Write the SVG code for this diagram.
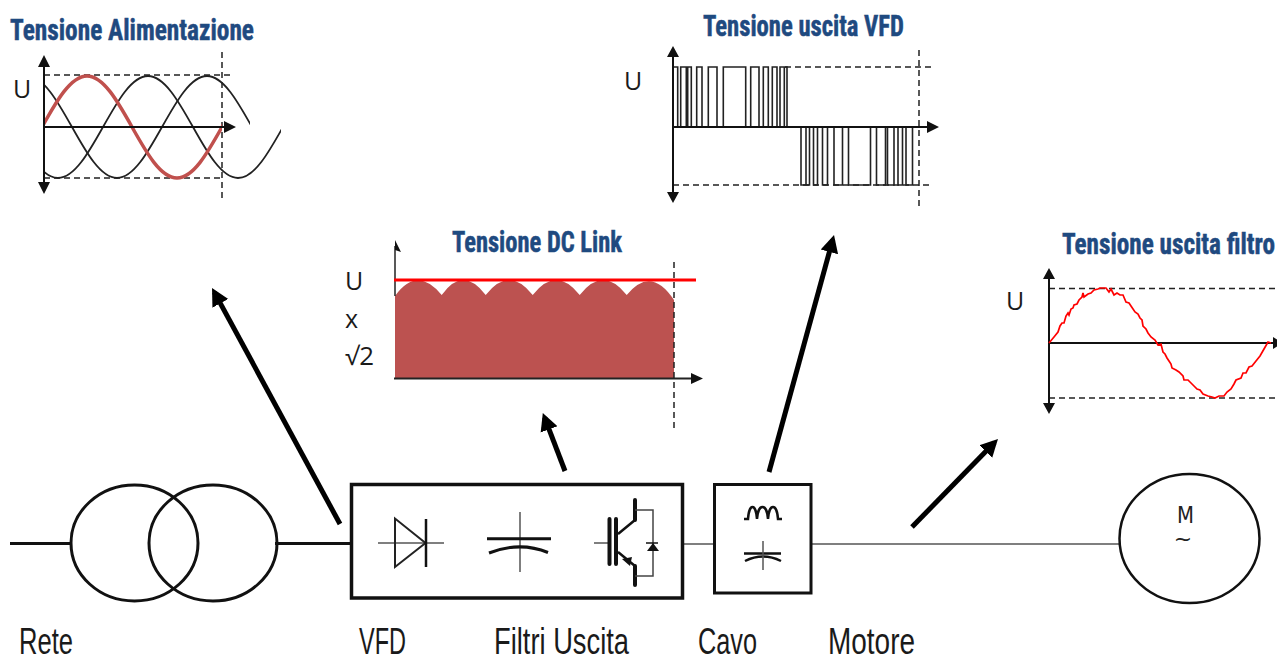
<svg xmlns="http://www.w3.org/2000/svg" width="1277" height="661" viewBox="0 0 1277 661">
<style>
.title{font-family:"Roboto Condensed","Liberation Sans Narrow","Liberation Sans",sans-serif;font-weight:700;font-size:30px;fill:#1f4a80;stroke:#1f4a80;stroke-width:.5px}
.lab{font-family:"Liberation Sans",sans-serif;font-size:36px;fill:#1a1a1a}
.u{font-family:"Open Sans","DejaVu Sans",sans-serif;font-size:25px;fill:#1a1a1a}
.ax{stroke:#111;stroke-width:2;fill:none}
.dash{stroke:#222;stroke-width:1.5;stroke-dasharray:6 4;fill:none}
.wave{stroke:#222;stroke-width:1.8;fill:none}
.thin{stroke:#555;stroke-width:1.5;fill:none}
.blk{stroke:#111;fill:none}
.pulse{stroke:#222;stroke-width:1.6;fill:none}
.arrow{stroke:#000;stroke-width:5;fill:none;marker-end:url(#big)}
</style>
<defs>
<marker id="big" markerUnits="strokeWidth" viewBox="0 -2 4 4" refX="2.500" refY="0" markerWidth="4" markerHeight="4" orient="auto"><path d="M0,-1.800L3.500,0L0,1.800Z" fill="#000"/></marker>
<clipPath id="cA"><rect x="44" y="60" width="206" height="130"/></clipPath>
<clipPath id="cB"><rect x="44" y="60" width="237" height="130"/></clipPath>
<clipPath id="cR"><rect x="44" y="60" width="178" height="130"/></clipPath>
</defs>
<rect width="1277" height="661" fill="#fff"/>

<g id="chart-alimentazione">
<text class="title" x="10" y="40" textLength="244" lengthAdjust="spacingAndGlyphs">Tensione Alimentazione</text>
<text class="u" x="13" y="98">U</text>
<path class="dash" d="M44 75H231M44 178H222M222 52V200"/>
<path class="wave" clip-path="url(#cA)" d="M27 76C59.800 76 84.200 178 117 178C149.800 178 174.200 76 207 76C239.800 76 264.200 178 297 178"/>
<path class="wave" clip-path="url(#cB)" d="M-32 76C.8 76 25.200 178 58 178C90.800 178 115.200 76 148 76C180.800 76 205.200 178 238 178C270.800 178 295.200 76 328 76"/>
<path clip-path="url(#cR)" fill="none" stroke="#c0504d" stroke-width="3.500" d="M-3 178C29.800 178 54.200 76 87 76C119.800 76 144.200 178 177 178C209.800 178 234.200 76 267 76"/>
<path class="ax" d="M44 64V186M44 127H226"/>
<path fill="#111" d="M44 55L50 67H38ZM44 194L50 182H38ZM236 127L224 121V133Z"/>
</g>

<g id="chart-uscita-vfd">
<text class="title" x="703" y="36" textLength="201" lengthAdjust="spacingAndGlyphs">Tensione uscita VFD</text>
<text class="u" x="624" y="90">U</text>
<path class="dash" d="M785 67H931M673 185H933M919 50V210"/>
<path class="pulse" d="M673 67H677.700V127M680.700 127V67H686.300V127M687.700 127V67H691.300V127M696.700 127V67H702V127M708.300 127V67H717V127M723.300 127V67H745.700V127M750.700 127V67H759V127M763.300 127V67H768.300V127M772.300 127V67H777V127M780 127V67H784.300V127M784.300 67H787V127"/>
<path class="pulse" d="M801 127V185H806V127M806 185H809.500V127M813.500 127V185H817.500V127M822.500 127V185H827.500V127M834 127V185H842.500V127M848.500 127V185H870.500V127M876.500 127V185H885.500V127M887.500 127V185H894V127M898 127V185H902.500V127M906 127V185H912.500V127"/>
<path class="ax" d="M673 56V193M673 127H928"/>
<path fill="#111" d="M673 46L679 57H667ZM673 203L679 192H667ZM939 127L927 121V133Z"/>
</g>

<g id="chart-dc-link">
<text class="title" x="452" y="252" textLength="170" lengthAdjust="spacingAndGlyphs">Tensione DC Link</text>
<text class="u" x="345" y="290">U</text>
<text class="u" x="345" y="328">x</text>
<text class="u" x="345" y="365" textLength="29" lengthAdjust="spacingAndGlyphs">√2</text>
<path fill="#bc5250" d="M395 378V296Q417 265 441.700 295Q463 265 485.700 295Q509 265 532.700 295Q556 265 579.700 295Q603 265 626.700 295Q651 265 674 300V378Z"/>
<path class="dash" d="M674 262V430"/>
<path d="M395 246V296" stroke="#222" stroke-width="1.5" fill="none"/>
<path d="M394 378.500H692" stroke="#222" stroke-width="2" fill="none"/>
<path d="M394 280H696" stroke="#f00" stroke-width="3" fill="none"/>
<path fill="#111" d="M395 240L401 252L395 250ZM703 378.500L691 373V384Z"/>
</g>

<g id="chart-uscita-filtro">
<text class="title" transform="translate(1062 254) scale(.84 1)" x="0" y="0">Tensione uscita filtro</text>
<text class="u" x="1006" y="310">U</text>
<path class="dash" d="M1049 288.500H1277M1049 398H1277"/>
<path class="ax" d="M1049 278V404M1049 343H1277"/>
<path fill="#111" d="M1049 268L1055 279H1043ZM1049 414L1055 403H1043ZM1283 343L1273 337V349Z"/>
<polyline fill="none" stroke="#f00" stroke-width="1.700" points="1049,343 1054,337 1058,332 1060,326 1062,323 1064,323 1066,316 1068,313 1069,315 1071,309 1073,308 1074,305 1077,304 1079,300 1082,297 1083,293 1084,297 1088,294 1091,293 1094,290 1098,289 1100,288 1106,288 1109,292 1111,289 1114,295 1117,293 1120,295 1123,295 1126,302 1129,303 1131,306 1135,312 1138,314 1140,318 1142,320 1143,326 1146,329 1148,333 1151,337 1155,340 1158,345 1161,344 1163,352 1165,354 1167,358 1169,361 1171,364 1172,368 1176,370 1179,372 1183,376 1184,380 1188,380 1191,383 1194,386 1197,389 1200,390 1203,394 1208,396 1212,397 1215,398 1219,396 1224,396 1227,392 1231,389 1234,384 1236,380 1241,378 1243,373 1246,373 1249,367 1252,366 1256,361 1260,356 1264,349 1268,342 1271,343"/>
</g>

<g id="connectors">
<path stroke="#111" stroke-width="3" fill="none" d="M10 543.500H71M275 543.500H351"/>
<path stroke="#555" stroke-width="1.5" fill="none" d="M682 544H714M811 544H1119"/>
<line class="arrow" x1="340" y1="524" x2="214.400" y2="292.400"/>
<line class="arrow" x1="565" y1="471" x2="544.600" y2="417.700"/>
<line class="arrow" x1="769" y1="472" x2="832.700" y2="239.800"/>
<line class="arrow" x1="912" y1="527" x2="994.500" y2="442.600"/>
</g>

<g id="node-rete">
<ellipse cx="134.500" cy="543" rx="63.500" ry="58" fill="none" stroke="#111" stroke-width="3"/>
<ellipse cx="213" cy="543" rx="64" ry="58" fill="none" stroke="#111" stroke-width="3"/>
<text class="lab" x="19" y="654" textLength="54" lengthAdjust="spacingAndGlyphs">Rete</text>
</g>

<g id="node-vfd">
<rect x="351.500" y="484.500" width="331" height="113.500" fill="#fff" stroke="#111" stroke-width="3.500"/>
<path class="thin" d="M378 543H444M520 512V572M594 543H609"/>
<path fill="none" stroke="#222" stroke-width="2" d="M395 518.500V567L425.500 543Z"/>
<path class="blk" stroke-width="2.500" d="M426 519V567"/>
<path class="blk" stroke-width="3" d="M487 538.700H551M489 553Q520 541 548 552.500"/>
<path class="blk" stroke-width="4" stroke-linecap="round" d="M609.500 519V564M616 519V564M635 500V520M635 566V585"/>
<path class="blk" stroke-width="2.500" d="M618 534L635 520M618 552L635 566"/>
<path fill="#111" d="M622 559L632 557L630 566Z"/>
<path fill="none" stroke="#444" stroke-width="1.500" d="M635 510H653V576H635"/>
<path fill="#111" d="M653 543L659 551H647Z"/>
<path class="blk" stroke-width="1.500" d="M646 543H658"/>
<text class="lab" x="359" y="654" textLength="47" lengthAdjust="spacingAndGlyphs">VFD</text>
<text class="lab" x="494" y="654" textLength="135" lengthAdjust="spacingAndGlyphs">Filtri Uscita</text>
</g>

<g id="node-filtro">
<rect x="714.500" y="484.500" width="96.500" height="108.500" fill="#fff" stroke="#111" stroke-width="3"/>
<path class="blk" stroke-width="2.500" d="M744 519H748C749 503 756 503 757 519C758 503 767 503 768 519C769 503 777 503 778 519H782"/>
<path class="blk" stroke-width="2.500" d="M744 553.500H781M745 561Q763 552 781 561"/>
<path class="thin" d="M763 541V570"/>
<text class="lab" x="698" y="654" textLength="59" lengthAdjust="spacingAndGlyphs">Cavo</text>
</g>

<g id="node-motore">
<ellipse cx="1189.500" cy="538.500" rx="70" ry="64.500" fill="#fff" stroke="#111" stroke-width="2.500"/>
<text x="1185.500" y="523" text-anchor="middle" font-family="'DejaVu Sans',sans-serif" font-size="23" textLength="17" lengthAdjust="spacingAndGlyphs" fill="#222">M</text>
<text x="1183" y="546" text-anchor="middle" font-family="'DejaVu Sans',sans-serif" font-size="22" fill="#222">~</text>
<text class="lab" x="828" y="654" textLength="87" lengthAdjust="spacingAndGlyphs">Motore</text>
</g>
</svg>
